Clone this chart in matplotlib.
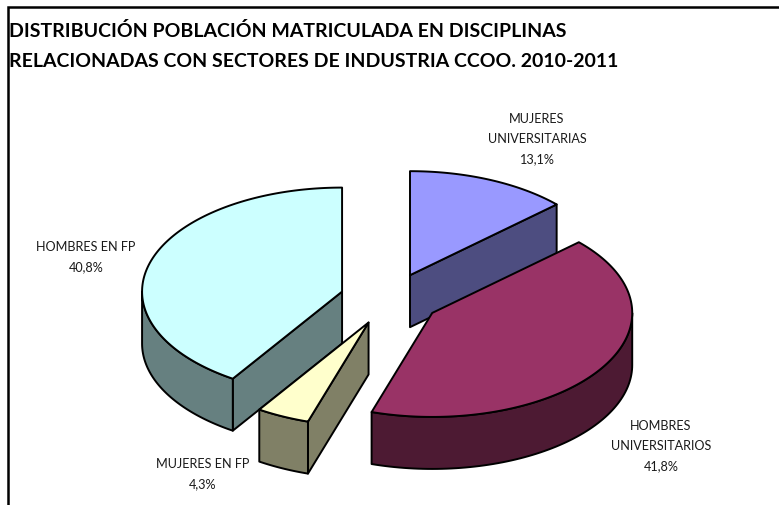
import numpy as np
import matplotlib
matplotlib.use("Agg")
import matplotlib.pyplot as plt
from matplotlib.patches import Polygon

plt.rcParams['font.family'] = ['Lato', 'DejaVu Sans']

title_lines = ["DISTRIBUCIÓN POBLACIÓN MATRICULADA EN DISCIPLINAS",
               "RELACIONADAS CON SECTORES DE INDUSTRIA CCOO. 2010-2011"]
categories = ["MUJERES\nUNIVERSITARIAS", "HOMBRES\nUNIVERSITARIOS", "MUJERES EN FP", "HOMBRES EN FP"]
values = [13.1, 41.8, 4.3, 40.8]
value_labels = ["13,1%", "41,8%", "4,3%", "40,8%"]
top_colors = ["#9999FF", "#993366", "#FFFFCC", "#CCFFFF"]
side_colors = ["#4D4D80", "#4D1A33", "#808066", "#668080"]

# pie geometry in pixels
CX, CY, RX, RY, DEPTH, EXPLODE = 390.0, 300.0, 200.0, 104.0, 52.0, 0.25
label_pos = [(537, 139), (661, 446), (203, 474), (86, 257)]
draw_order = [0, 3, 1, 2]

fig = plt.figure(figsize=(7.79, 5.06), dpi=100, facecolor="white")
ax = fig.add_axes([0, 0, 1, 1])
ax.set_xlim(0, 779)
ax.set_ylim(506, 0)
ax.axis("off")

# chart frame (only top and left edges are inside the crop)
ax.plot([8, 8, 779], [506, 8, 8], color="black", lw=1.8, solid_joinstyle="miter")

fracs = np.array(values) / sum(values)
edges = np.concatenate([[0], np.cumsum(fracs)]) * 2 * np.pi


def pt(ax0, ay0, a):
    return ax0 + RX * np.sin(a), ay0 - RY * np.cos(a)


for i in draw_order:
    a0, a1 = edges[i], edges[i + 1]
    mid = (a0 + a1) / 2
    x0 = CX + EXPLODE * RX * np.sin(mid)
    y0 = CY - EXPLODE * RY * np.cos(mid)
    base_z = 1 + draw_order.index(i) * 3
    kw = dict(closed=True, ec="black", lw=1.4, joinstyle="round")
    # radial side faces that look toward the viewer
    for a, visible in ((a0, np.sin(a0) < -1e-9), (a1, np.sin(a1) > 1e-9)):
        if visible:
            px, py = pt(x0, y0, a)
            ax.add_patch(Polygon([(x0, y0), (px, py), (px, py + DEPTH), (x0, y0 + DEPTH)],
                                 fc=side_colors[i], zorder=base_z, **kw))
    # outer wall, visible part only
    lo, hi = max(a0, np.pi / 2), min(a1, 3 * np.pi / 2)
    if hi > lo:
        t = np.linspace(lo, hi, 80)
        xs, ys = pt(x0, y0, t)
        wall = list(zip(xs, ys)) + list(zip(xs[::-1], ys[::-1] + DEPTH))
        ax.add_patch(Polygon(wall, fc=side_colors[i], zorder=base_z + 1, **kw))
    # top face
    t = np.linspace(a0, a1, 160)
    xs, ys = pt(x0, y0, t)
    ax.add_patch(Polygon([(x0, y0)] + list(zip(xs, ys)), fc=top_colors[i],
                         zorder=base_z + 2, **kw))

for (lx, ly), cat, val in zip(label_pos, categories, value_labels):
    ax.text(lx, ly, cat + "\n" + val, ha="center", va="center", fontsize=9.1,
            color="#1a1a1a", linespacing=1.8, zorder=30)

for y, line in zip((31, 61), title_lines):
    ax.text(9, y, line, ha="left", va="center", fontsize=14.0, fontweight="bold",
            color="black", zorder=30)

fig.savefig("out.png", dpi=100)
